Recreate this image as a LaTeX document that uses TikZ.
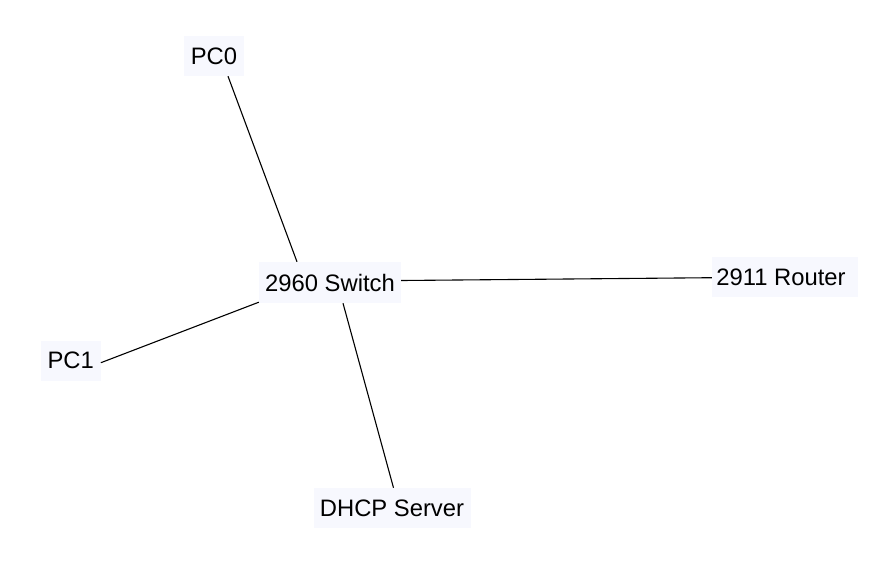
\documentclass[tikz,border=0pt]{standalone}
\usepackage{fontspec}
\setmainfont{Liberation Sans}
\definecolor{boxfill}{RGB}{247,248,254}
\begin{document}
\begin{tikzpicture}[x=1pt,y=-1pt,
  dev/.style={fill=boxfill, draw=none, minimum height=40pt, inner sep=0pt, font=\fontsize{23.8}{27}\selectfont},
  link/.style={draw=black, line width=1.1pt}]
\useasboundingbox (0,0) rectangle (888,574);
\node[dev, minimum width=60pt] (pc0) at (214,56) {PC0};
\node[dev, minimum width=142pt, minimum height=41pt] (sw) at (330,282.5) {2960 Switch};
\node[dev, minimum width=146pt] (rt) at (785,277) {\hspace{-8pt}2911 Router};
\node[dev, minimum width=157pt] (dh) at (392,508) {DHCP Server};
\node[dev, minimum width=60pt] (pc1) at (70.7,360.7) {PC1};
\draw[link] ([xshift=14pt]pc0.south) -- ([xshift=-33pt]sw.north);
\draw[link] ([yshift=-2pt]pc1.east) -- ([yshift=1pt]sw.south west);
\draw[link] ([yshift=2pt]sw.east) -- ([yshift=-0.7pt]rt.west);
\draw[link] ([xshift=13pt]sw.south) -- ([xshift=1.5pt]dh.north);
\end{tikzpicture}
\end{document}
